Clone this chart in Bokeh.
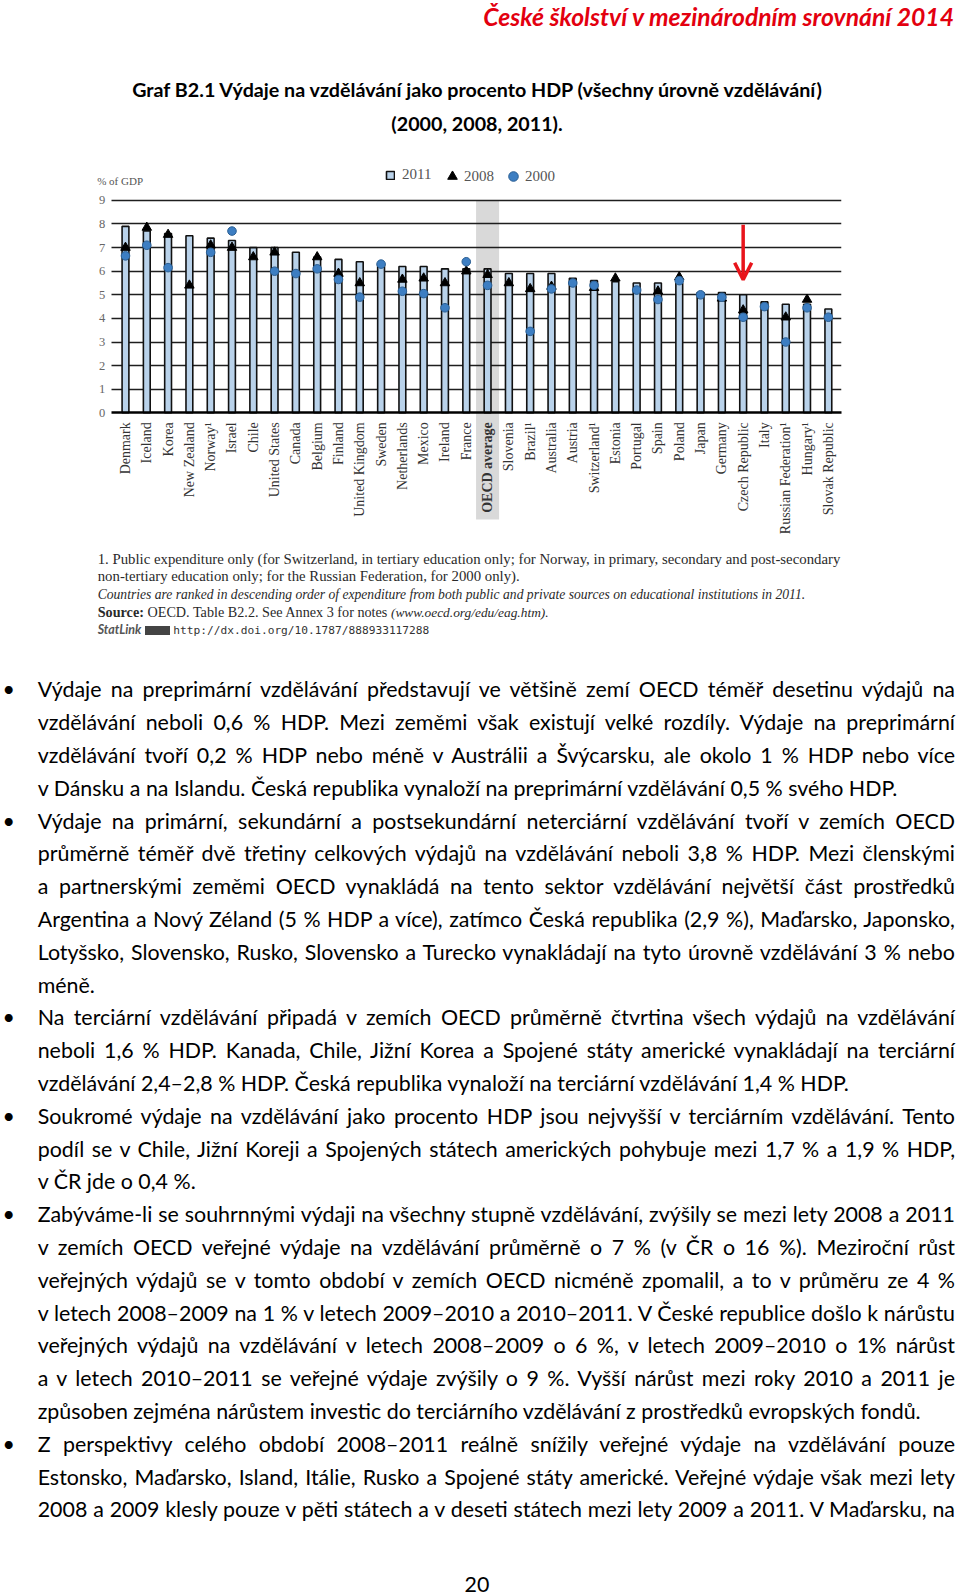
import math
import numpy as np
from bokeh.plotting import figure
from bokeh.models import (ColumnDataSource, Div, FixedTicker, Legend, LegendItem,
                          Label, Arrow, OpenHead, Grid)
from bokeh.layouts import column
from bokeh.embed import file_html
from bokeh.resources import INLINE
from bokeh.core.properties import value

# ---------------- data ----------------
countries = ["Denmark", "Iceland", "Korea", "New Zealand", "Norway\u00b9", "Israel", "Chile",
             "United States", "Canada", "Belgium", "Finland", "United Kingdom", "Sweden",
             "Netherlands", "Mexico", "Ireland", "France", "OECD average", "Slovenia",
             "Brazil\u00b9", "Australia", "Austria", "Switzerland\u00b9", "Estonia", "Portugal",
             "Spain", "Poland", "Japan", "Germany", "Czech Republic", "Italy",
             "Russian Federation\u00b9", "Hungary\u00b9", "Slovak Republic"]
exp_2011 = [7.9, 7.7, 7.6, 7.5, 7.4, 7.3, 7.0, 7.0, 6.8, 6.6, 6.5, 6.4, 6.3,
            6.2, 6.2, 6.1, 6.1, 6.1, 5.9, 5.9, 5.9, 5.7, 5.6, 5.55, 5.5,
            5.5, 5.5, 5.1, 5.1, 5.0, 4.7, 4.6, 4.6, 4.4]
exp_2008 = [7.0, 7.85, 7.55, 5.4, 7.1, 7.0, 6.6, 6.8, None, 6.6, 5.9, 5.5, None,
            5.65, 5.7, 5.5, 6.0, 5.85, 5.5, 5.25, 5.35, None, 5.3, 5.7, None,
            5.15, 5.75, None, 4.85, 4.35, None, 4.05, 4.8, None]
exp_2000 = [6.65, 7.1, 6.15, None, 6.8, 7.7, None, 6.0, 5.9, 6.1, 5.65, 4.9, 6.3,
            5.15, 5.05, 4.45, 6.4, 5.4, None, 3.45, 5.25, 5.5, 5.4, None, 5.2,
            4.8, 5.6, 5.0, 4.9, 4.05, 4.5, 3.0, 4.45, 4.05]
y_ticks = [0, 1, 2, 3, 4, 5, 6, 7, 8, 9]
series_labels = ["2011", "2008", "2000"]
average_label = "OECD average"
marked_country = "Czech Republic"
y_axis_title = "% of GDP"

header_text = "České školství v mezinárodním srovnání 2014"
title_lines = ["Graf B2.1 Výdaje na vzdělávání jako procento HDP (všechny úrovně vzdělávání)",
               "(2000, 2008, 2011)."]
footnote_1 = "1. Public expenditure only (for Switzerland, in tertiary education only; for Norway, in primary, secondary and post-secondary"
footnote_2 = "non-tertiary education only; for the Russian Federation, for 2000 only)."
footnote_3 = "Countries are ranked in descending order of expenditure from both public and private sources on educational institutions in 2011."
source_word = "Source:"
source_text = "OECD. Table B2.2. See Annex 3 for notes"
source_url = "(www.oecd.org/edu/eag.htm)."
statlink_word = "StatLink"
statlink_url = "http://dx.doi.org/10.1787/888933117288"

paragraphs = [
    ["Výdaje na preprimární vzdělávání představují ve většině zemí OECD téměř desetinu výdajů na",
     "vzdělávání neboli 0,6 % HDP. Mezi zeměmi však existují velké rozdíly. Výdaje na preprimární",
     "vzdělávání tvoří 0,2 % HDP nebo méně v Austrálii a Švýcarsku, ale okolo 1 % HDP nebo více",
     "v Dánsku a na Islandu. Česká republika vynaloží na preprimární vzdělávání 0,5 % svého HDP."],
    ["Výdaje na primární, sekundární a postsekundární neterciární vzdělávání tvoří v zemích OECD",
     "průměrně téměř dvě třetiny celkových výdajů na vzdělávání neboli 3,8 % HDP. Mezi členskými",
     "a partnerskými zeměmi OECD vynakládá na tento sektor vzdělávání největší část prostředků",
     "Argentina a Nový Zéland (5 % HDP a více), zatímco Česká republika (2,9 %), Maďarsko, Japonsko,",
     "Lotyšsko, Slovensko, Rusko, Slovensko a Turecko vynakládají na tyto úrovně vzdělávání 3 % nebo",
     "méně."],
    ["Na terciární vzdělávání připadá v zemích OECD průměrně čtvrtina všech výdajů na vzdělávání",
     "neboli 1,6 % HDP. Kanada, Chile, Jižní Korea a Spojené státy americké vynakládají na terciární",
     "vzdělávání 2,4–2,8 % HDP. Česká republika vynaloží na terciární vzdělávání 1,4 % HDP."],
    ["Soukromé výdaje na vzdělávání jako procento HDP jsou nejvyšší v terciárním vzdělávání. Tento",
     "podíl se v Chile, Jižní Koreji a Spojených státech amerických pohybuje mezi 1,7 % a 1,9 % HDP,",
     "v ČR jde o 0,4 %."],
    ["Zabýváme-li se souhrnnými výdaji na všechny stupně vzdělávání, zvýšily se mezi lety 2008 a 2011",
     "v zemích OECD veřejné výdaje na vzdělávání průměrně o 7 % (v ČR o 16 %). Meziroční růst",
     "veřejných výdajů se v tomto období v zemích OECD nicméně zpomalil, a to v průměru ze 4 %",
     "v letech 2008–2009 na 1 % v letech 2009–2010 a 2010–2011. V České republice došlo k nárůstu",
     "veřejných výdajů na vzdělávání v letech 2008–2009 o 6 %, v letech 2009–2010 o 1% nárůst",
     "a v letech 2010–2011 se veřejné výdaje zvýšily o 9 %. Vyšší nárůst mezi roky 2010 a 2011 je",
     "způsoben zejména nárůstem investic do terciárního vzdělávání z prostředků evropských fondů."],
    ["Z perspektivy celého období 2008–2011 reálně snížily veřejné výdaje na vzdělávání pouze",
     "Estonsko, Maďarsko, Island, Itálie, Rusko a Spojené státy americké. Veřejné výdaje však mezi lety",
     "2008 a 2009 klesly pouze v pěti státech a v deseti státech mezi lety 2009 a 2011. V Maďarsku, na"],
]
last_paragraph_continues = True
page_number = "20"

# ---------------- layout constants (page pixels) ----------------
W = 960
TOP_H = 160
CHART_H = 380
BOTTOM_H = 1054
CHART_TOP = TOP_H
SERIF = "Liberation Serif"
SANS = "Lato"
BODY_FS = 21.4
BODY_LH = 32.8

# ---------------- chart ----------------
idx = list(range(len(countries)))
to_arr = lambda v: np.array([np.nan if a is None else a for a in v], dtype=float)
styles = ["bold" if c == average_label else "normal" for c in countries]
src = ColumnDataSource(dict(x=idx, name=countries, v11=exp_2011,
                            v08=to_arr(exp_2008), v00=to_arr(exp_2000), style=styles))

X_START, X_END = -1.455, 33.617
GRID_START = -0.671
p = figure(width=W, height=CHART_H, x_range=(X_START, X_END), y_range=(-5.41, 10.69),
           x_axis_type=None, output_backend="svg", toolbar_location=None,
           min_border_left=94, min_border_right=W - 94 - 747,
           min_border_top=0, min_border_bottom=0)
p.outline_line_color = None
p.background_fill_color = "white"
p.border_fill_color = "white"

# OECD average band
avg_i = countries.index(average_label)
p.vbar(x=[avg_i], width=1.08, bottom=-4.52, top=y_ticks[-1], fill_color="#d9d9d9",
       line_color=None, level="image")

p.yaxis.ticker = FixedTicker(ticks=y_ticks)
p.yaxis.fixed_location = GRID_START
p.yaxis.axis_line_color = None
p.yaxis.major_tick_line_color = None
p.yaxis.minor_tick_line_color = None
p.yaxis.major_tick_in = 0
p.yaxis.major_tick_out = 0
p.yaxis.major_label_standoff = 6
p.yaxis.major_label_text_font = SERIF
p.yaxis.major_label_text_font_size = "12.5px"
p.yaxis.major_label_text_color = "#666666"
p.ygrid.ticker = FixedTicker(ticks=y_ticks[1:])
p.ygrid.grid_line_color = "#1e1e1e"
p.ygrid.grid_line_width = 1.5
p.ygrid.cross_bounds = (GRID_START, X_END)
zero_grid = Grid(dimension=1, ticker=FixedTicker(ticks=y_ticks[:1]), grid_line_color="#000000",
                 grid_line_width=2.6, cross_bounds=(GRID_START, X_END), level="annotation")
p.add_layout(zero_grid)

bars = p.vbar(x="x", top="v11", bottom=0, width=0.32, fill_color="#b9d2ea",
              line_color="#111111", line_width=1.6, source=src)
tri = p.scatter(x="x", y="v08", marker="triangle", size=9.5, fill_color="#000000",
                line_color="#000000", line_width=1, source=src)
dots = p.scatter(x="x", y="v00", marker="circle", size=8.6, fill_color="#3d7ec2",
                 line_color="#2b5f93", line_width=1, source=src)

p.text(x="x", y=-0.4, text="name", angle=math.pi / 2, text_align="right",
       text_baseline="middle", text_font=value(SERIF), text_font_size="14px",
       text_color="#333333", text_font_style="style", source=src)

p.add_layout(Label(x=-1.33, y=9.82, text=y_axis_title, text_font=SERIF,
                   text_font_size="11px", text_color="#555555",
                   text_baseline="middle", text_align="left"))

leg1 = Legend(items=[LegendItem(label=series_labels[0], renderers=[bars])],
              orientation="horizontal", location=(291, 357), glyph_width=10, glyph_height=10,
              label_standoff=7, padding=0, margin=0, spacing=0,
              border_line_color=None, background_fill_alpha=0,
              label_text_font=SERIF, label_text_font_size="15px",
              label_text_color="#555555")
leg2 = Legend(items=[LegendItem(label=series_labels[1], renderers=[tri]),
                     LegendItem(label=series_labels[2], renderers=[dots])],
              orientation="horizontal", location=(346, 352), glyph_width=24, glyph_height=24,
              label_standoff=-7, padding=0, margin=0, spacing=7,
              border_line_color=None, background_fill_alpha=0,
              label_text_font=SERIF, label_text_font_size="15px",
              label_text_color="#555555")
p.add_layout(leg1)
p.add_layout(leg2)

ci = countries.index(marked_country)
arrow_from, arrow_to = 7.97, 5.64
p.add_layout(Arrow(x_start=ci, y_start=arrow_from, x_end=ci, y_end=arrow_to,
                   line_color="#e8141b", line_width=3.5,
                   end=OpenHead(size=17, line_color="#e8141b", line_width=3.5)))

# ---------------- top text ----------------
top_html = f'''<div style="position:relative;width:{W}px;height:{TOP_H}px;font-family:{SANS},sans-serif;color:#000;">
<div style="position:absolute;right:6px;top:2.4px;font-size:24.7px;line-height:30px;font-weight:bold;font-style:italic;color:#e3000f;white-space:nowrap;">{header_text}</div>
<div style="position:absolute;left:0;width:954px;top:78.2px;text-align:center;font-size:19.7px;line-height:24px;font-weight:bold;white-space:nowrap;">{title_lines[0]}</div>
<div style="position:absolute;left:0;width:954px;top:112.2px;text-align:center;font-size:19.7px;line-height:24px;font-weight:bold;white-space:nowrap;">{title_lines[1]}</div>
</div>'''
top_div = Div(text=top_html, width=W, height=TOP_H, margin=0)

# ---------------- bottom text ----------------
BOT0 = CHART_TOP + CHART_H
fn_style = "position:absolute;left:97.7px;white-space:nowrap;line-height:18px;color:#2a2a2a;font-family:'Liberation Serif',serif;"
fn_tops = [550.0, 567.3, 585.6, 602.9, 621.2]
parts = []
parts.append(f'<div style="{fn_style}top:{fn_tops[0]-BOT0:.1f}px;font-size:14.8px;">{footnote_1}</div>')
parts.append(f'<div style="{fn_style}top:{fn_tops[1]-BOT0:.1f}px;font-size:14.8px;">{footnote_2}</div>')
parts.append(f'<div style="{fn_style}top:{fn_tops[2]-BOT0:.1f}px;font-size:13.6px;font-style:italic;">{footnote_3}</div>')
parts.append(f'<div style="{fn_style}top:{fn_tops[3]-BOT0:.1f}px;font-size:14.2px;"><b>{source_word}</b> {source_text} <i style="font-size:13.4px;">{source_url}</i></div>')
parts.append(f'<div style="{fn_style}top:{fn_tops[4]-BOT0:.1f}px;font-size:14px;"><span style="font-family:Lato,sans-serif;font-style:italic;font-weight:bold;font-size:12.5px;color:#555;">{statlink_word}</span> '
             f'<span style="display:inline-block;width:25px;height:9px;background:#444;vertical-align:middle;"></span> '
             f'<span style="font-family:\'DejaVu Sans Mono\',monospace;font-size:11.2px;color:#333;">{statlink_url}</span></div>')

first_top = 673.35 - BOT0
line_i = 0
for pi_, lines in enumerate(paragraphs):
    for li, line in enumerate(lines):
        top = first_top + line_i * BODY_LH
        is_last = (li == len(lines) - 1) and not (pi_ == len(paragraphs) - 1 and last_paragraph_continues)
        align = "text-align:left;" if is_last else "text-align:justify;text-align-last:justify;"
        if li == 0:
            parts.append(f'<div style="position:absolute;left:2.5px;top:{top:.1f}px;font-size:{BODY_FS}px;line-height:{BODY_LH}px;">&#8226;</div>')
        parts.append(f'<div style="position:absolute;left:37.7px;width:917.3px;top:{top:.1f}px;font-size:{BODY_FS}px;line-height:{BODY_LH}px;white-space:nowrap;{align}">{line}</div>')
        line_i += 1
parts.append(f'<div style="position:absolute;left:0;width:954px;top:{1574.9-BOT0:.1f}px;text-align:center;font-size:{BODY_FS}px;line-height:19px;">{page_number}</div>')

bottom_html = f'<div style="position:relative;width:{W}px;height:{BOTTOM_H}px;font-family:{SANS},sans-serif;color:#000;">' + "".join(parts) + '</div>'
bottom_div = Div(text=bottom_html, width=W, height=BOTTOM_H, margin=0)

layout = column(top_div, p, bottom_div, spacing=0)
open("out.html", "w").write(file_html(layout, INLINE))
